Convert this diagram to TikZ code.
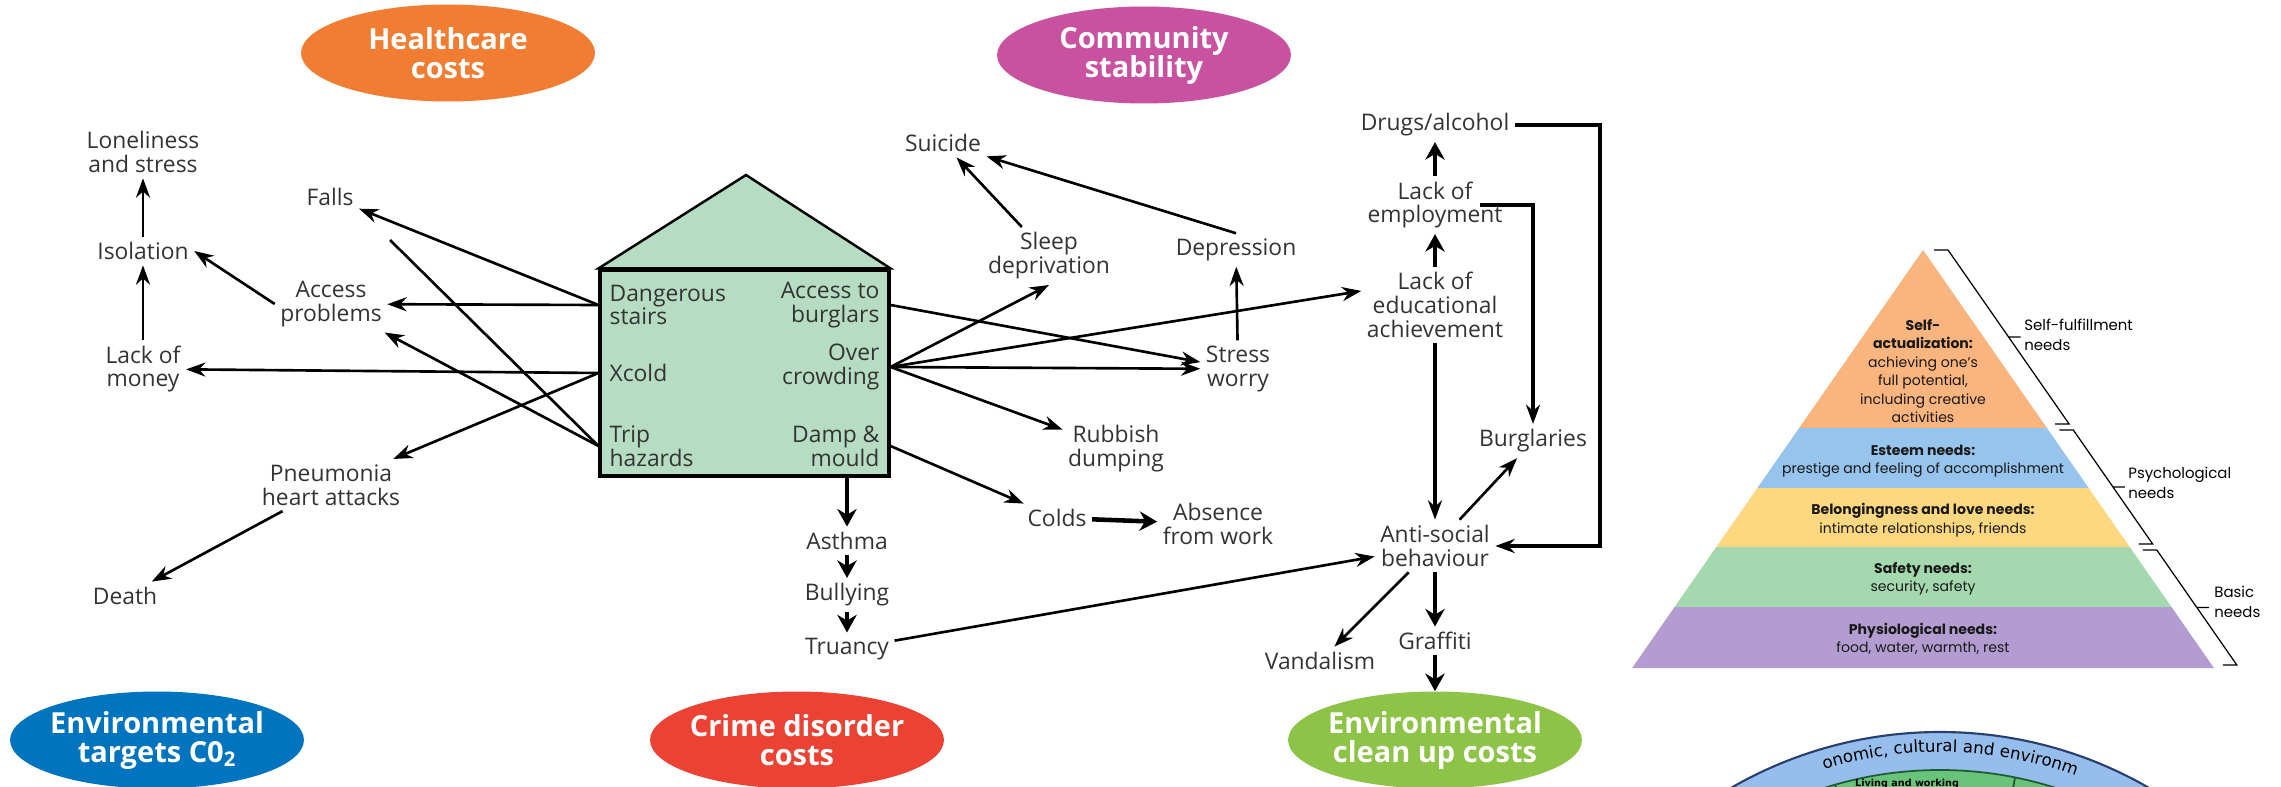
\documentclass[tikz,border=0pt]{standalone}
\usepackage{fontspec}
\setmainfont{Open Sans}
\newfontfamily\pyrfont{Poppins}
\newfontfamily\arcfont{DejaVu Sans}
\usetikzlibrary{arrows.meta,positioning,shapes.geometric,decorations.text}
\definecolor{healthorange}{RGB}{240,125,50}
\definecolor{communitypink}{RGB}{201,82,160}
\definecolor{targetblue}{RGB}{0,116,190}
\definecolor{crimered}{RGB}{236,66,52}
\definecolor{cleanupgreen}{RGB}{141,196,72}
\definecolor{housegreen}{RGB}{182,221,195}
\definecolor{selforange}{RGB}{250,180,126}
\definecolor{esteemblue}{RGB}{150,196,236}
\definecolor{loveyellow}{RGB}{253,216,128}
\definecolor{safetygreen}{RGB}{164,216,174}
\definecolor{physpurple}{RGB}{178,156,208}
\definecolor{ringblue}{RGB}{150,190,236}
\definecolor{ringline}{RGB}{40,62,110}
\definecolor{livinggreen}{RGB}{104,196,122}
\definecolor{livingline}{RGB}{30,90,50}
\begin{document}
\begin{tikzpicture}
        [x=0.02cm, y=0.02cm, node distance=1.08cm,
         lbl/.style={font=\fontsize{13}{13.6}\selectfont, text=black!80, align=center, inner sep=3pt},
         bubble/.style={ellipse, fill=#1, minimum width=5.88cm, minimum height=1.94cm, inner sep=-0.4cm,
                        text=white, align=center, font=\fontsize{16.5}{16.5}\selectfont\bfseries},
         arr/.style={-{Stealth[length=11pt,width=8pt]}, line width=1.5pt},
         fat/.style={-{Stealth[length=10pt,width=11pt]}, line width=2.6pt},
         rail/.style={line width=2.2pt},
         pyr/.style={font=\pyrfont\fontsize{8}{10.5}\selectfont, align=center, text=black!90, inner sep=0pt},
         side/.style={font=\pyrfont\fontsize{8.5}{11.3}\selectfont, align=left, anchor=west, inner sep=0pt},
         brace/.style={line width=0.7pt}]
        \useasboundingbox (0,0) rectangle (2281,-787);
        \clip (0,0) rectangle (2281,-787);
        \node[bubble=healthorange] (health) at (448,-53) {Healthcare\\costs};
        \node[bubble=communitypink] (commun) at (1144,-55) {Community\\stability};
        \node[bubble=targetblue] (target) at (157,-740) {Environmental\\targets C0\textsubscript{2}};
        \node[bubble=crimered] (crime) at (797,-740) {Crime disorder\\costs};
        \node[bubble=cleanupgreen] (cleanup) at (1435,-740) {Environmental\\clean up costs};
        \node[draw, line width=1.8pt, fill=housegreen, minimum width=5.78cm, minimum height=4.12cm, inner sep=0pt] (house) at (744.5,-373) {};
        \filldraw[fill=housegreen, line width=1.4pt] (house.north west) -- (746,-175) -- (house.north east) -- cycle;
        \node[lbl, anchor=west, align=left] (ds) at (604,-305) {Dangerous\\stairs};
        \node[lbl, anchor=west] (xc) at (604,-373) {Xcold};
        \node[lbl, anchor=west, align=left] (th) at (604,-446) {Trip\\hazards};
        \node[lbl, anchor=east, align=right] (ab) at (885,-305) {Access to\\burglars};
        \node[lbl, anchor=east, align=right] (oc) at (885,-367) {Over\\crowding};
        \node[lbl, anchor=east, align=right] (dm) at (885,-446) {Damp \&\\mould};
        \node[lbl] (lone) at (143,-152) {Loneliness\\and stress};
        \node[lbl] (iso) at (143,-251) {Isolation};
        \node[lbl] (money) at (143,-369) {Lack of\\money};
        \node[lbl] (falls) at (330,-197) {Falls};
        \node[lbl] (access) at (331,-304) {Access\\problems};
        \node[lbl] (pneu) at (331,-485) {Pneumonia\\heart attacks};
        \node[lbl] (death) at (125,-596) {Death};
        \node[lbl] (suicide) at (943,-143) {Suicide};
        \node[lbl] (sleep) at (1049,-256) {Sleep\\deprivation};
        \node[lbl] (depr) at (1236,-250) {Depression};
        \node[lbl] (stress) at (1238,-369) {Stress\\worry};
        \node[lbl] (rubbish) at (1116,-449) {Rubbish\\dumping};
        \node[lbl] (colds) at (1057,-518) {Colds};
        \node[lbl] (absence) at (1218,-524) {Absence\\from work};
        \node[lbl] (asthma) at (847,-541) {Asthma};
        \node[lbl, below of=asthma] (bully) {Bullying};
        \node[lbl, below of=bully] (truancy) {Truancy};
        \node[lbl] (drugs) at (1435,-125) {Drugs/alcohol};
        \node[lbl] (employ) at (1435,-205) {Lack of\\employment};
        \node[lbl] (edu) at (1435,-305) {Lack of\\educational\\achievement};
        \node[lbl] (burg) at (1533,-441) {Burglaries};
        \node[lbl] (anti) at (1435,-546) {Anti-social\\behaviour};
        \node[lbl] (vandal) at (1320,-661) {Vandalism};
        \node[lbl] (graffiti) at (1435,-641) {Graffiti};
        \coordinate (fallsfoot) at (390,-240);
        \draw[arr] (money) -- (iso);
        \draw[arr] (iso) -- (lone);
        \draw[arr] (access.west) -- (iso.east);
        \draw[arr] (house.west |- ds) -- (falls);
        \draw[arr] (house.west |- ds) -- (access);
        \draw[arr] (house.west |- xc) -- (money);
        \draw[arr] (house.west |- xc) -- (pneu);
        \draw[line width=1.5pt] (house.west |- th) -- (fallsfoot);
        \draw[arr] (house.west |- th) -- (access);
        \draw[arr] (pneu) -- (death);
        \draw[arr] (house.east |- ab) -- (stress);
        \draw[arr] (house.east |- oc) -- (sleep.south);
        \draw[arr] (house.east |- oc) -- ([yshift=8pt]edu.west);
        \draw[arr] (house.east |- oc) -- (stress);
        \draw[arr] (house.east |- oc) -- (rubbish);
        \draw[arr] (house.east |- dm) -- (colds);
        \draw[fat] (house.south -| asthma) -- (asthma);
        \draw[fat] (asthma) -- (bully);
        \draw[fat] (bully) -- (truancy);
        \draw[fat] (colds) -- (absence);
        \draw[arr] (truancy) -- (anti);
        \draw[arr] (sleep) -- (suicide);
        \draw[arr] (depr.north) -- (suicide);
        \draw[arr] (stress) -- (depr);
        \draw[fat] (edu) -- (employ);
        \draw[fat] (employ) -- (drugs);
        \draw[arr, rail] ([xshift=-16pt]employ.east) -| (burg);
        \draw[arr, rail] (drugs.east) -- ++(85,0) |- (anti.east);
        \draw[arr, line width=2pt] (edu) -- (anti);
        \draw[arr] (anti) -- (burg);
        \draw[arr] (anti) -- (vandal);
        \draw[fat] (anti) -- (graffiti);
        \draw[fat] (graffiti) -- (cleanup);
        \foreach \ya/\yb/\col in {250/428/selforange, 428/488/esteemblue, 488/547/loveyellow, 547/607/safetygreen, 607/668/physpurple}{
          \pgfmathsetmacro\wa{(\ya-250)*0.696}
          \pgfmathsetmacro\wb{(\yb-250)*0.696}
          \fill[\col] (1923-\wa,-\ya) -- (1923+\wa,-\ya) -- (1923+\wb,-\yb) -- (1923-\wb,-\yb) -- cycle;
        }
        \foreach \ya/\yb in {250/424, 430/544, 550/665}{
          \pgfmathsetmacro\xa{1948+(\ya-250)*0.696}
          \pgfmathsetmacro\xb{1948+(\yb-250)*0.696}
          \pgfmathsetmacro\ym{(\ya+\yb)/2}
          \pgfmathsetmacro\xm{1948+(\ym-250)*0.696}
          \draw[brace] (\xa-14,-\ya) -- (\xa,-\ya) -- (\xb,-\yb) -- (\xb-14,-\yb) (\xm,-\ym) -- ++(12,0);
        }
        \node[pyr] (selfact) at (1923,-371) {\textbf{Self-}\\\textbf{actualization:}\\achieving one’s\\full potential,\\including creative\\activities};
        \node[pyr] (esteem) at (1923,-461) {\textbf{Esteem needs:}\\prestige and feeling of accomplishment};
        \node[pyr] (love) at (1923,-520) {\textbf{Belongingness and love needs:}\\intimate relationships, friends};
        \node[pyr] (safety) at (1923,-579) {\textbf{Safety needs:}\\security, safety};
        \node[pyr] (phys) at (1923,-639) {\textbf{Physiological needs:}\\food, water, warmth, rest};
        \node[side] (selfneeds) at (2024,-335) {Self-fulfillment\\needs};
        \node[side] (psyneeds) at (2128,-483) {Psychological\\needs};
        \node[side] (basicneeds) at (2214,-602) {Basic\\needs};
        \fill[ringblue, draw=ringline, line width=1.2pt] (1940,-1150) circle[radius=418];
        \fill[livinggreen, draw=livingline, line width=1pt] (1940,-1150) circle[radius=380];
        \foreach \a in {106,78.6}
          \draw[livingline, line width=1pt] (1940,-1150) ++(\a:300) -- ++(\a:80);
        \node[font=\arcfont\bfseries\fontsize{5.5}{5.5}\selectfont, inner sep=0pt] (living) at (1907,-784) {Living and working};
        \path[decorate, decoration={text along path, text align=center,
              text={|\arcfont\fontsize{9.5}{9.5}\selectfont|onomic, cultural and environm}}]
              (1940,-1150) ++(112:398) arc[start angle=112, end angle=65, radius=398];
\end{tikzpicture}
\end{document}
